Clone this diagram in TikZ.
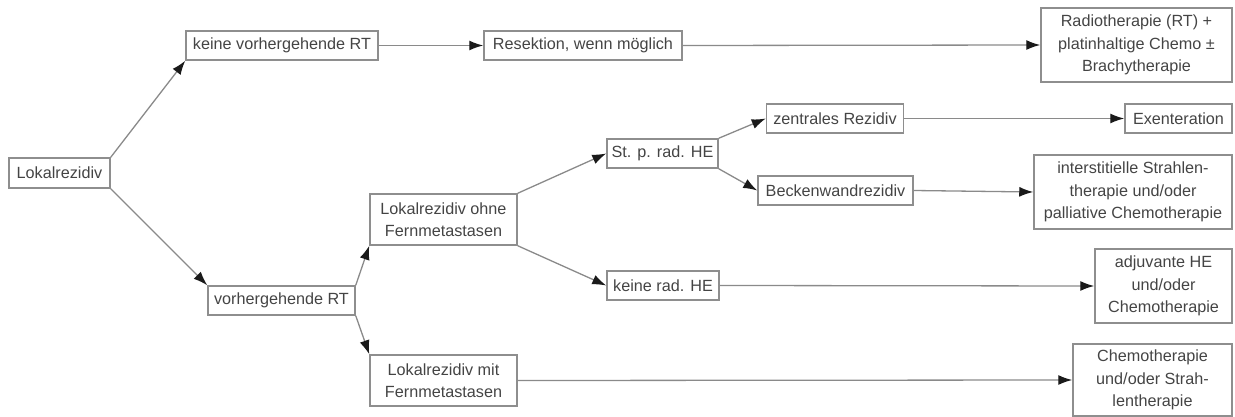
\documentclass[tikz,border=0pt]{standalone}
\usepackage{fontspec}
\setmainfont{Liberation Sans}
\usetikzlibrary{arrows.meta}
\definecolor{boxline}{HTML}{8E8E8E}
\definecolor{conline}{HTML}{8A8A8A}
\definecolor{txt}{HTML}{444444}
\definecolor{tip}{HTML}{1A1A1A}
\tikzset{
  box/.style={draw=boxline, line width=1.5pt, text=txt, align=center, inner sep=0pt,
    font=\fontsize{16.2}{22.5}\selectfont, minimum height=29pt},
  con/.style={draw=conline, line width=1.3pt,
    -{Latex[length=14pt,width=10pt,color=tip]}}
}
\begin{document}
\begin{tikzpicture}[x=1pt,y=-1pt]
\useasboundingbox (0,0) rectangle (1235,417);
\node[box, minimum width=101pt, minimum height=30pt] (L) at (59.5,173) {Lokalrezidiv};
\node[box, minimum width=192pt] (KV) at (282,45.5) {keine vorhergehende RT};
\node[box, minimum width=198pt] (RES) at (583,45.5) {Resektion, wenn möglich};
\node[box, minimum width=191pt, minimum height=74pt] (RAD) at (1136.5,45) {Radiotherapie (RT) +\\platinhaltige Chemo ±\\Brachytherapie};
\node[box, minimum width=137pt] (ZR) at (835,118.5) {zentrales Rezidiv};
\node[box, minimum width=107pt] (EX) at (1178.5,118.5) {Exenteration};
\node[box, minimum width=111pt] (ST) at (662.5,153.5) {St. p. rad. HE};
\node[box, minimum width=155pt] (BW) at (835.5,190.5) {Beckenwandrezidiv};
\node[box, minimum width=198pt, minimum height=74pt] (INT) at (1133,192) {interstitielle Strahlen-\\therapie und/oder\\palliative Chemotherapie};
\node[box, minimum width=147pt, minimum height=51pt] (LO) at (443.5,219.5) {Lokalrezidiv ohne\\Fernmetastasen};
\node[box, minimum width=112pt] (KR) at (663,285.5) {keine rad. HE};
\node[box, minimum width=137pt, minimum height=74pt] (ADJ) at (1163.5,286) {adjuvante HE\\und/oder\\Chemotherapie};
\node[box, minimum width=147pt] (VR) at (281.5,300.5) {vorhergehende RT};
\node[box, minimum width=147pt, minimum height=51pt] (LM) at (443.5,380.5) {Lokalrezidiv mit\\Fernmetastasen};
\node[box, minimum width=159pt, minimum height=72pt] (CH) at (1152.5,380) {Chemotherapie\\und/oder Strah-\\lentherapie};

\draw[con] (L.north east) -- (KV.south west);
\draw[con] (L.south east) -- (VR.north west);
\draw[con] (VR.north east) -- (LO.south west);
\draw[con] (VR.south east) -- (LM.north west);
\draw[con] (LO.north east) -- (ST.west);
\draw[con] (LO.south east) -- (KR.west);
\draw[con] (ST.north east) -- (ZR.west);
\draw[con] (ST.south east) -- (BW.west);
\draw[con] (KV.east) -- (RES.west);
\draw[con] (RES.east) -- (RAD.west);
\draw[con] (ZR.east) -- (EX.west);
\draw[con] (BW.east) -- (INT.west);
\draw[con] (KR.east) -- (ADJ.west);
\draw[con] (LM.east) -- (CH.west);
\end{tikzpicture}
\end{document}
